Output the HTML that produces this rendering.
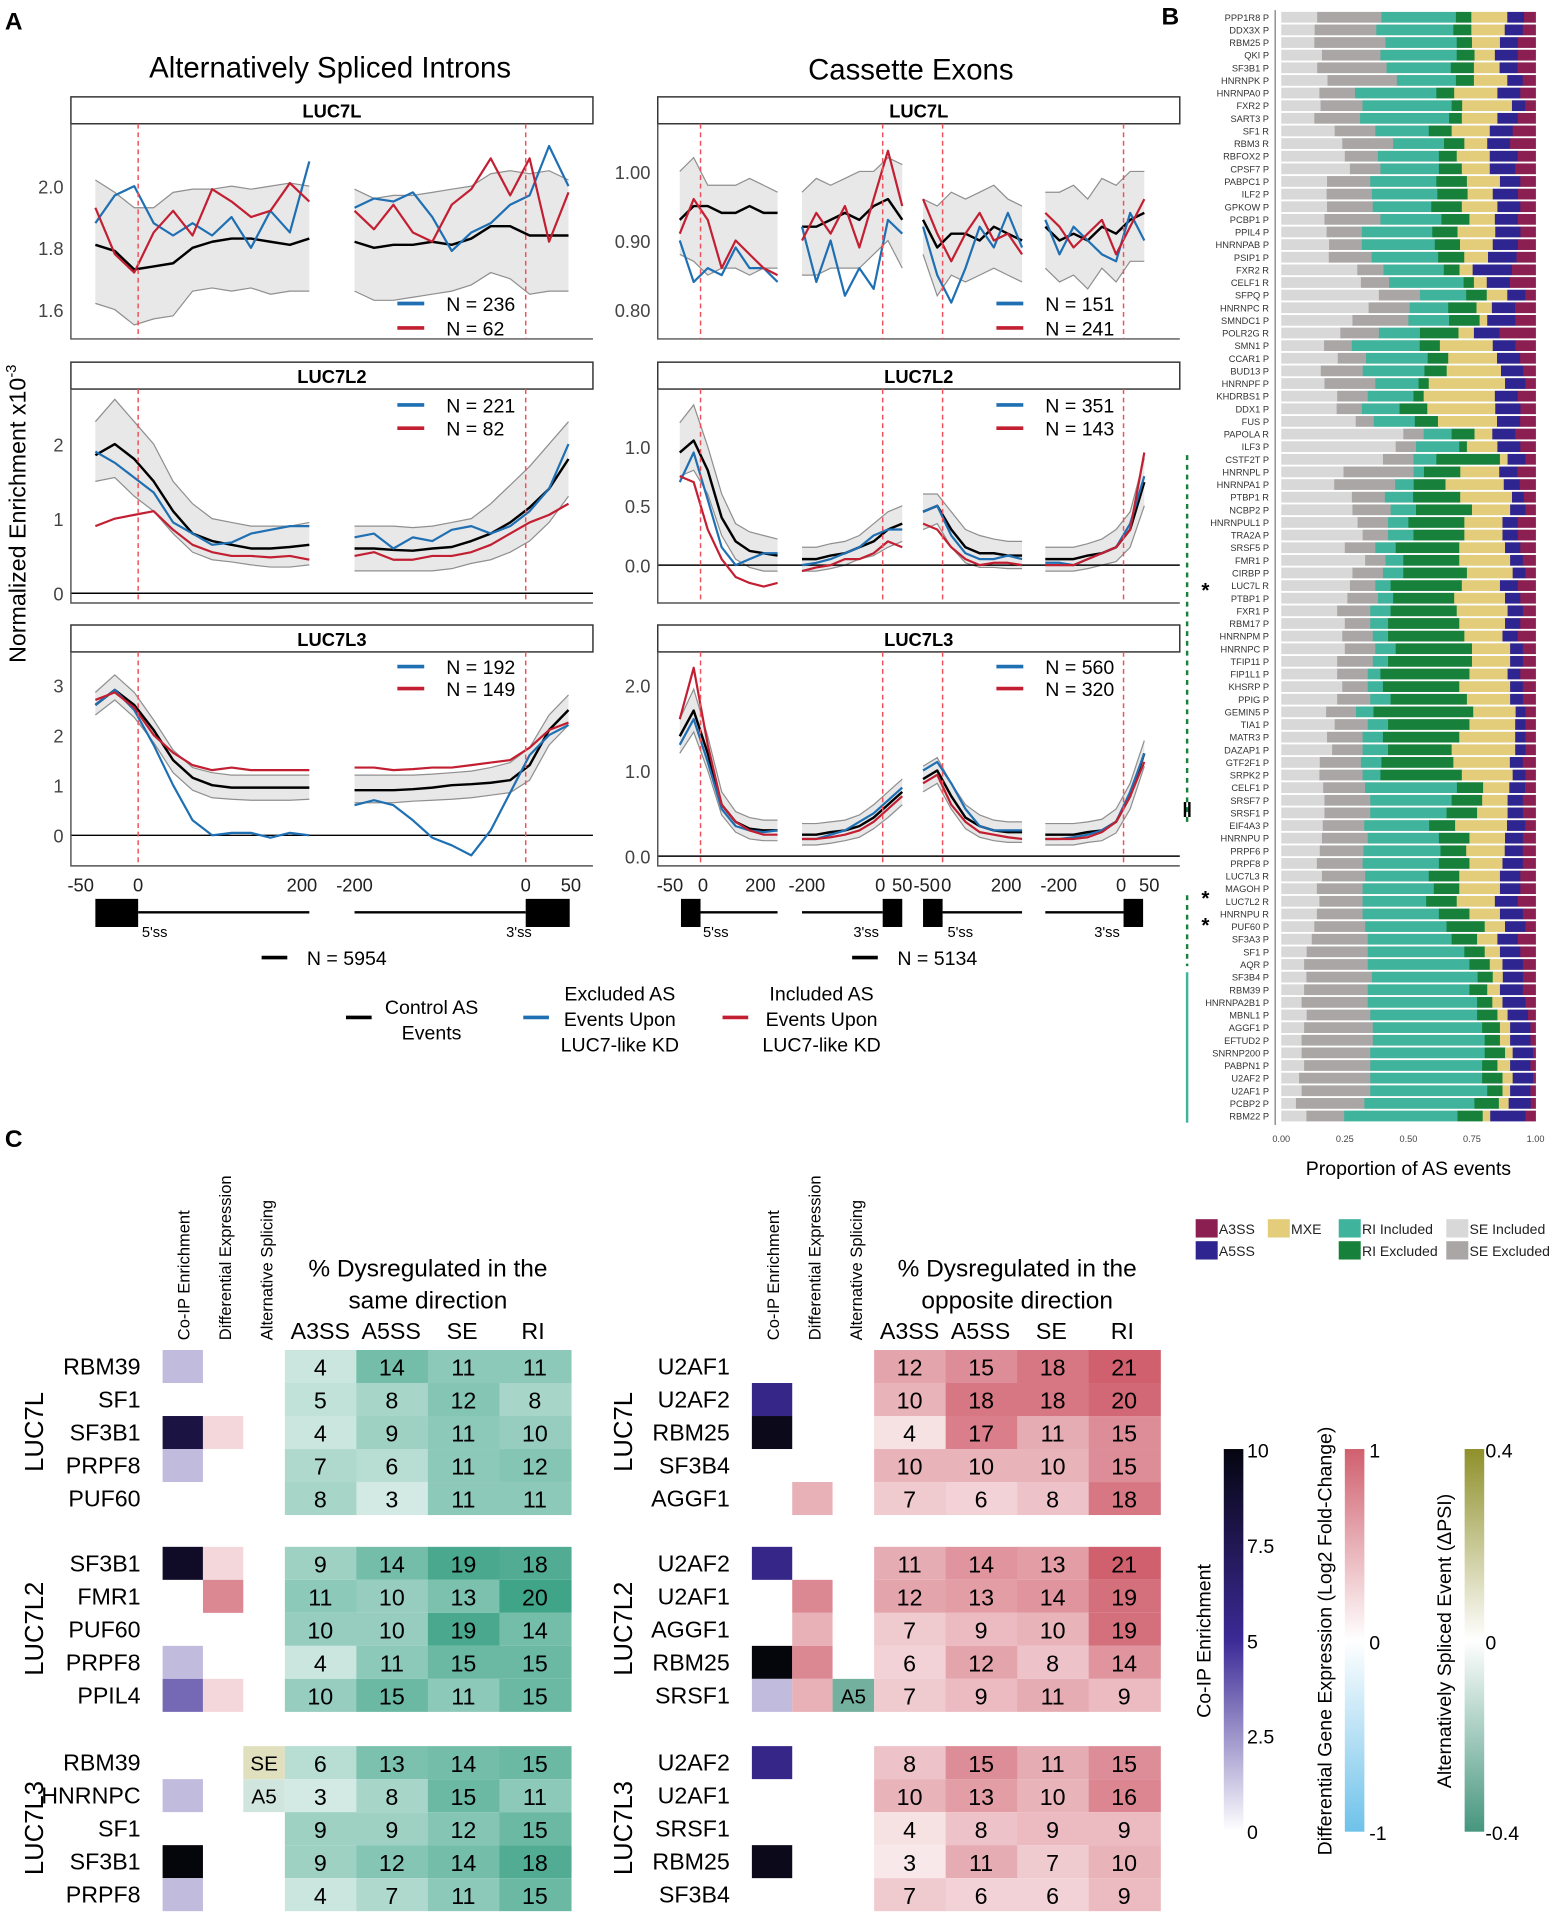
<!DOCTYPE html>
<html><head><meta charset="utf-8"><style>
html,body{margin:0;padding:0;background:#fff;}
svg{display:block;font-family:"Liberation Sans",Arial,sans-serif;}
</style></head><body>
<svg id="fig" xmlns="http://www.w3.org/2000/svg" width="1560" height="1920" viewBox="0 0 1276 1570">
<rect x="0" y="0" width="1276" height="1570" fill="#fff"/>
<g id="static" font-family="Liberation Sans, Arial, sans-serif">
<text x="4" y="24" font-size="20" font-weight="bold">A</text>
<text x="950" y="20" font-size="20" font-weight="bold">B</text>
<text x="4" y="938" font-size="20" font-weight="bold">C</text>
<text x="270" y="63" font-size="24" text-anchor="middle">Alternatively Spliced Introns</text>
<text x="745" y="65" font-size="24" text-anchor="middle">Cassette Exons</text>
<text transform="translate(21,420) rotate(-90)" font-size="19" text-anchor="middle">Normalized Enrichment x10<tspan font-size="12" dy="-8">-3</tspan></text>
</g>
<g id="panelA"></g>
<g id="panelB"></g>
<g id="panelC"></g>
</svg>
<script>
// ---------------- Panel A data ----------------
const in_L7L_ctrl=[1.81,1.79,1.73,1.74,1.75,1.80,1.82,1.83,1.83,1.82,1.81,1.83, 1.82,1.80,1.81,1.81,1.82,1.81,1.83,1.87,1.87,1.84,1.84,1.84];
const in_L7L_up=[2.02,1.98,1.93,1.93,1.98,1.99,1.99,2.00,1.99,2.00,2.01,2.00, 1.99,1.96,1.97,1.97,1.98,1.99,2.00,2.04,2.05,2.04,2.05,2.02];
const in_L7L_lo=[1.62,1.60,1.55,1.57,1.58,1.66,1.67,1.66,1.67,1.65,1.66,1.66, 1.66,1.63,1.63,1.64,1.65,1.66,1.68,1.72,1.70,1.65,1.66,1.66];
const in_L7L_blue=[1.88,1.97,2.00,1.88,1.84,1.88,1.84,1.90,1.80,1.92,1.85,2.08, 1.93,1.96,1.95,1.98,1.90,1.79,1.85,1.88,1.94,1.97,2.13,2.00];
const in_L7L_red=[1.93,1.78,1.72,1.85,1.92,1.84,1.99,1.95,1.90,1.92,2.01,1.95, 1.92,1.86,1.94,1.85,1.82,1.94,1.99,2.09,1.97,2.09,1.82,1.98];

const ex_L7L_ctrl=[0.93,0.95,0.95,0.94,0.94,0.95,0.94,0.94, 0.92,0.92,0.93,0.94,0.93,0.95,0.96,0.93, 0.93,0.89,0.91,0.91,0.90,0.92,0.91,0.90, 0.92,0.90,0.91,0.90,0.92,0.91,0.93,0.94];
const ex_L7L_up=[1.00,1.02,0.98,0.98,0.98,0.99,0.98,0.97, 0.97,0.99,0.98,0.99,1.00,1.00,1.02,1.01, 0.96,0.95,0.97,0.96,0.97,0.98,0.96,0.95, 0.97,0.97,0.98,0.96,0.99,0.98,1.00,1.00];
const ex_L7L_lo=[0.88,0.87,0.85,0.86,0.86,0.85,0.86,0.86, 0.85,0.85,0.86,0.86,0.86,0.88,0.90,0.86, 0.88,0.82,0.85,0.84,0.85,0.86,0.85,0.84, 0.86,0.84,0.85,0.83,0.86,0.84,0.87,0.87];
const ex_L7L_blue=[0.90,0.84,0.86,0.85,0.89,0.86,0.86,0.84, 0.92,0.84,0.90,0.82,0.86,0.83,0.93,0.91, 0.92,0.85,0.81,0.86,0.92,0.89,0.94,0.89, 0.93,0.88,0.92,0.90,0.88,0.87,0.94,0.90];
const ex_L7L_red=[0.91,0.96,0.93,0.86,0.90,0.88,0.86,0.85, 0.90,0.94,0.91,0.95,0.89,0.96,1.03,0.95, 0.96,0.91,0.87,0.91,0.94,0.90,0.91,0.88, 0.94,0.92,0.89,0.91,0.93,0.88,0.92,0.96];

const in_L7L2_ctrl=[1.85,2.0,1.8,1.5,1.1,0.8,0.7,0.65,0.6,0.6,0.62,0.65, 0.6,0.6,0.58,0.57,0.6,0.62,0.7,0.8,0.95,1.15,1.4,1.8];
const in_L7L2_up=[2.3,2.6,2.3,2.0,1.5,1.2,1.0,0.95,0.9,0.9,0.9,0.95, 0.9,0.9,0.9,0.88,0.9,0.95,1.0,1.2,1.45,1.7,2.0,2.3];
const in_L7L2_lo=[1.5,1.55,1.3,1.1,0.8,0.55,0.45,0.42,0.38,0.35,0.35,0.38, 0.3,0.3,0.3,0.3,0.3,0.33,0.4,0.45,0.55,0.7,0.95,1.3];
const in_L7L2_blue=[1.9,1.75,1.55,1.35,0.95,0.8,0.65,0.68,0.8,0.85,0.9,0.9, 0.75,0.8,0.6,0.75,0.7,0.85,0.9,0.8,0.9,1.1,1.4,2.0];
const in_L7L2_red=[0.9,1.0,1.05,1.1,0.85,0.65,0.55,0.5,0.5,0.48,0.5,0.45, 0.5,0.55,0.45,0.45,0.5,0.5,0.55,0.65,0.8,0.95,1.05,1.2];

const ex_L7L2_ctrl=[0.95,1.05,0.8,0.4,0.2,0.12,0.1,0.08, 0.05,0.05,0.08,0.1,0.15,0.2,0.3,0.35, 0.45,0.5,0.3,0.15,0.1,0.1,0.08,0.08, 0.05,0.05,0.05,0.08,0.1,0.15,0.3,0.7];
const ex_L7L2_up=[1.2,1.35,1.0,0.6,0.35,0.28,0.25,0.22, 0.15,0.15,0.18,0.2,0.25,0.35,0.45,0.5, 0.6,0.6,0.45,0.3,0.25,0.22,0.2,0.2, 0.15,0.15,0.15,0.18,0.22,0.3,0.45,0.9];
const ex_L7L2_lo=[0.75,0.8,0.6,0.25,0.05,-0.02,-0.05,-0.05, -0.05,-0.05,-0.03,0,0.05,0.08,0.15,0.2, 0.3,0.35,0.15,0.02,-0.02,-0.02,-0.03,-0.03, -0.05,-0.05,-0.05,-0.03,0,0.03,0.15,0.5];
const ex_L7L2_blue=[0.7,0.95,0.55,0.15,0.0,0.05,0.1,0.1, 0.0,0.02,0.05,0.1,0.15,0.25,0.3,0.3, 0.45,0.5,0.25,0.1,0.05,0.05,0.08,0.05, 0.02,0.02,0.0,0.05,0.1,0.15,0.35,0.75];
const ex_L7L2_red=[0.75,0.7,0.3,0.05,-0.1,-0.15,-0.18,-0.15, -0.05,-0.02,0.0,0.05,0.05,0.1,0.2,0.15, 0.35,0.3,0.15,0.05,0.0,0.02,0.02,0.0, 0.0,0.0,0.0,0.05,0.1,0.15,0.3,0.95];

const in_L7L3_ctrl=[2.6,2.9,2.6,2.1,1.5,1.15,1.0,0.95,0.95,0.95,0.95,0.95, 0.9,0.9,0.9,0.92,0.95,1.0,1.02,1.05,1.1,1.4,2.1,2.5];
const in_L7L3_up=[2.85,3.2,2.85,2.3,1.7,1.35,1.25,1.2,1.2,1.2,1.2,1.2, 1.2,1.2,1.2,1.2,1.22,1.25,1.28,1.35,1.45,1.75,2.4,2.8];
const in_L7L3_lo=[2.4,2.7,2.35,1.85,1.25,0.9,0.75,0.72,0.7,0.7,0.7,0.72, 0.65,0.65,0.65,0.68,0.7,0.72,0.75,0.8,0.85,1.1,1.8,2.2];
const in_L7L3_blue=[2.6,2.9,2.5,1.8,1.0,0.3,0.0,0.05,0.05,-0.05,0.05,0.0, 0.6,0.7,0.6,0.3,-0.05,-0.2,-0.4,0.1,0.85,1.6,2.0,2.2];
const in_L7L3_red=[2.7,2.85,2.55,2.0,1.65,1.4,1.3,1.35,1.3,1.3,1.3,1.3, 1.35,1.35,1.3,1.32,1.35,1.35,1.4,1.45,1.5,1.75,2.1,2.25];

const ex_L7L3_ctrl=[1.4,1.7,1.2,0.6,0.4,0.32,0.3,0.3, 0.25,0.25,0.28,0.3,0.35,0.45,0.6,0.75, 0.9,1.0,0.7,0.45,0.35,0.3,0.28,0.28, 0.25,0.25,0.25,0.28,0.3,0.4,0.7,1.2];
const ex_L7L3_up=[1.6,1.95,1.4,0.75,0.52,0.45,0.42,0.42, 0.38,0.38,0.4,0.42,0.48,0.6,0.75,0.9, 1.05,1.15,0.85,0.6,0.48,0.42,0.4,0.4, 0.38,0.38,0.38,0.4,0.43,0.55,0.85,1.35];
const ex_L7L3_lo=[1.2,1.45,1.0,0.48,0.28,0.2,0.18,0.18, 0.13,0.13,0.15,0.18,0.22,0.32,0.45,0.6, 0.75,0.85,0.55,0.32,0.22,0.18,0.16,0.16, 0.13,0.13,0.13,0.16,0.18,0.27,0.55,1.05];
const ex_L7L3_blue=[1.3,1.6,1.1,0.55,0.35,0.3,0.28,0.3, 0.2,0.2,0.25,0.3,0.4,0.5,0.65,0.8, 1.0,1.1,0.85,0.55,0.35,0.3,0.3,0.3, 0.2,0.2,0.22,0.25,0.3,0.4,0.75,1.2];
const ex_L7L3_red=[1.6,2.2,1.3,0.6,0.4,0.3,0.25,0.25, 0.2,0.2,0.22,0.25,0.3,0.4,0.55,0.7, 0.85,0.95,0.6,0.4,0.28,0.25,0.22,0.2, 0.2,0.2,0.2,0.22,0.28,0.4,0.7,1.1];

const nLabels=[["N = 236","N = 62"],["N = 151","N = 241"],["N = 221","N = 82"],["N = 351","N = 143"],["N = 192","N = 149"],["N = 560","N = 320"]];
const ticks_in=[[1.6,1.8,2.0],[0,1,2],[0,1,2,3]];
const ticks_ex=[[0.80,0.90,1.00],[0.0,0.5,1.0],[0.0,1.0,2.0]];

// ---------------- Panel B data ----------------
const bLabels=["PPP1R8 P","DDX3X P","RBM25 P","QKI P","SF3B1 P","HNRNPK P","HNRNPA0 P","FXR2 P","SART3 P","SF1 R","RBM3 R","RBFOX2 P","CPSF7 P","PABPC1 P","ILF2 P","GPKOW P","PCBP1 P","PPIL4 P","HNRNPAB P","PSIP1 P","FXR2 R","CELF1 R","SFPQ P","HNRNPC R","SMNDC1 P","POLR2G R","SMN1 P","CCAR1 P","BUD13 P","HNRNPF P","KHDRBS1 P","DDX1 P","FUS P","PAPOLA R","ILF3 P","CSTF2T P","HNRNPL P","HNRNPA1 P","PTBP1 R","NCBP2 P","HNRNPUL1 P","TRA2A P","SRSF5 P","FMR1 P","CIRBP P","LUC7L R","PTBP1 P","FXR1 P","RBM17 P","HNRNPM P","HNRNPC P","TFIP11 P","FIP1L1 P","KHSRP P","PPIG P","GEMIN5 P","TIA1 P","MATR3 P","DAZAP1 P","GTF2F1 P","SRPK2 P","CELF1 P","SRSF7 P","SRSF1 P","EIF4A3 P","HNRNPU P","PRPF6 P","PRPF8 P","LUC7L3 R","MAGOH P","LUC7L2 R","HNRNPU R","PUF60 P","SF3A3 P","SF1 P","AQR P","SF3B4 P","RBM39 P","HNRNPA2B1 P","MBNL1 P","AGGF1 P","EFTUD2 P","SNRNP200 P","PABPN1 P","U2AF2 P","U2AF1 P","PCBP2 P","RBM22 P"];
const seInc=[.14,.13,.13,.16,.14,.18,.15,.15,.13,.21, .24,.25,.27,.18,.18,.18,.17,.18,.19,.20, .29,.31,.38,.34,.28,.23,.17,.22,.16,.17, .22,.22,.29,.48,.45,.40,.24,.20,.30,.28, .30,.32,.25,.33,.28,.27,.26,.22,.25,.24, .25,.22,.22,.24,.22,.18,.21,.18,.20,.15, .15,.16,.17,.17,.16,.16,.15,.14,.16,.14, .15,.14,.13,.12,.10,.09,.10,.09,.08,.10, .09,.08,.08,.09,.07,.08,.06,.10];
const seExc=[.25,.24,.28,.23,.27,.27,.14,.16,.18,.16, .20,.13,.12,.17,.18,.18,.22,.14,.13,.18, .10,.11,.16,.16,.22,.15,.11,.11,.17,.20, .12,.10,.07,.08,.08,.12,.27,.23,.14,.15, .12,.10,.12,.08,.12,.10,.12,.13,.10,.12, .12,.14,.12,.10,.13,.12,.13,.14,.12,.16, .17,.16,.18,.18,.16,.18,.17,.18,.17,.18, .17,.18,.20,.22,.24,.25,.26,.25,.26,.25, .27,.28,.27,.26,.28,.27,.28,.15];
const riInc=[.29,.30,.28,.30,.25,.23,.32,.34,.35,.21, .20,.24,.23,.26,.26,.23,.24,.28,.29,.28, .23,.29,.18,.15,.16,.16,.27,.24,.25,.17, .18,.15,.16,.11,.17,.09,.04,.07,.12,.10, .08,.10,.08,.07,.08,.06,.06,.08,.07,.06, .08,.06,.05,.06,.08,.07,.08,.08,.10,.08, .07,.35,.32,.30,.25,.28,.30,.30,.25,.28, .25,.30,.32,.33,.38,.40,.42,.40,.43,.42, .43,.44,.45,.44,.44,.46,.45,.45];
const riExc=[.06,.07,.06,.07,.09,.07,.07,.04,.05,.09, .08,.07,.09,.12,.12,.12,.11,.10,.10,.11, .06,.04,.08,.11,.12,.15,.08,.08,.09,.04, .04,.11,.09,.09,.03,.25,.14,.12,.20,.22, .22,.20,.25,.22,.25,.28,.24,.26,.28,.30, .30,.33,.35,.30,.30,.40,.32,.30,.25,.28, .32,.10,.12,.12,.10,.12,.10,.12,.12,.10, .12,.12,.15,.10,.08,.08,.06,.07,.06,.08, .07,.06,.08,.06,.08,.06,.10,.10];
const mxe=[.14,.13,.11,.08,.10,.13,.17,.19,.14,.15, .09,.13,.11,.13,.10,.14,.10,.15,.13,.10, .05,.05,.08,.06,.03,.06,.21,.19,.22,.30, .28,.27,.23,.07,.12,.03,.15,.22,.22,.15, .15,.15,.18,.20,.18,.15,.20,.20,.18,.15, .15,.15,.15,.20,.17,.17,.18,.22,.25,.22, .20,.10,.10,.12,.20,.14,.15,.13,.16,.16, .15,.12,.08,.08,.06,.05,.04,.05,.04,.04, .04,.04,.03,.05,.04,.03,.04,.03];
const a5ss=[.065,.07,.07,.09,.07,.06,.09,.05,.08,.09, .09,.11,.10,.08,.10,.09,.09,.10,.10,.12, .15,.09,.07,.09,.11,.10,.09,.09,.09,.08, .09,.10,.09,.09,.09,.07,.07,.06,.05,.06, .06,.06,.06,.05,.05,.07,.06,.06,.06,.06, .05,.05,.05,.05,.05,.04,.04,.04,.04,.05, .05,.06,.06,.06,.07,.07,.07,.08,.08,.08, .09,.09,.08,.08,.08,.08,.08,.09,.09,.08, .08,.08,.08,.08,.08,.08,.09,.14];
const a3ss=[.045,.05,.07,.07,.07,.05,.06,.04,.07,.09, .10,.07,.08,.06,.07,.06,.07,.06,.07,.08, .09,.10,.04,.08,.08,.14,.08,.06,.05,.04, .07,.06,.06,.08,.06,.04,.07,.06,.05,.04, .07,.07,.06,.05,.04,.07,.06,.05,.06,.07, .05,.05,.06,.05,.05,.04,.04,.04,.04,.05, .04,.04,.05,.05,.04,.05,.05,.05,.06,.06, .07,.05,.04,.07,.06,.05,.05,.05,.04,.03, .02,.02,.01,.02,.01,.02,.02,.04];
const bTicks=["0.00","0.25","0.50","0.75","1.00"];

// ---------------- Panel C data ----------------
const groups=["LUC7L","LUC7L2","LUC7L3"];
const sameGenes=[["RBM39","SF1","SF3B1","PRPF8","PUF60"],["SF3B1","FMR1","PUF60","PRPF8","PPIL4"],["RBM39","HNRNPC","SF1","SF3B1","PRPF8"]];
const samePct=[[[4,14,11,11],[5,8,12,8],[4,9,11,10],[7,6,11,12],[8,3,11,11]],[[9,14,19,18],[11,10,13,20],[10,10,19,14],[4,11,15,15],[10,15,11,15]],[[6,13,14,15],[3,8,15,11],[9,9,12,15],[9,12,14,18],[4,7,11,15]]];
const sameCoip=[[1.5,null,8,1.5,null],[9,null,null,1.5,3.5],[null,1.5,null,10,1.5]];
const sameDE=[[null,null,0.25,null,null],[0.25,0.75,null,null,0.25],[null,null,null,null,null]];
const sameAS=[[null,null,null,null,null],[null,null,null,null,null],[["SE",0.12],["A5",-0.1],null,null,null]];
const oppGenes=[["U2AF1","U2AF2","RBM25","SF3B4","AGGF1"],["U2AF2","U2AF1","AGGF1","RBM25","SRSF1"],["U2AF2","U2AF1","SRSF1","RBM25","SF3B4"]];
const oppPct=[[[12,15,18,21],[10,18,18,20],[4,17,11,15],[10,10,10,15],[7,6,8,18]],[[11,14,13,21],[12,13,14,19],[7,9,10,19],[6,12,8,14],[7,9,11,9]],[[8,15,11,15],[10,13,10,16],[4,8,9,9],[3,11,7,10],[7,6,6,9]]];
const oppCoip=[[null,5.5,9.5,null,null],[5.5,null,null,10,1.5],[5.5,null,null,9.5,null]];
const oppDE=[[null,null,null,null,0.5],[null,0.75,0.5,0.75,0.5],[null,null,null,null,null]];
const oppAS=[[null,null,null,null,null],[null,null,null,null,["A5",-0.3]],[null,null,null,null,null]];
const eventCols=["A3SS","A5SS","SE","RI"];
const coipTicks=["10","7.5","5","2.5","0"];

const NS="http://www.w3.org/2000/svg";
function mk(tag,attrs,parent){const e=document.createElementNS(NS,tag);for(const k in attrs)e.setAttribute(k,attrs[k]);parent.appendChild(e);return e;}
function txt(s,attrs,parent){const e=mk("text",attrs,parent);e.textContent=s;return e;}

// ---------------- Draw Panel A ----------------
const A=document.getElementById("panelA");
const segIn=[[78,253],[290,465]], segEx=[[556,636],[656,738],[755,836],[855,936]];
const rows=[{strip:79,bottom:277,name:"LUC7L",inY:[1.6,253,252.5],exY:[0.80,253,565],zero:false,leg:[248,268]},
            {strip:296,bottom:493,name:"LUC7L2",inY:[0,485,61],exY:[0,462,97],zero:true,leg:[331,350]},
            {strip:511,bottom:708,name:"LUC7L3",inY:[0,683,41],exY:[0,700,70],zero:true,leg:[545,563]}];
const dataIn=[[in_L7L_ctrl,in_L7L_up,in_L7L_lo,in_L7L_blue,in_L7L_red],[in_L7L2_ctrl,in_L7L2_up,in_L7L2_lo,in_L7L2_blue,in_L7L2_red],[in_L7L3_ctrl,in_L7L3_up,in_L7L3_lo,in_L7L3_blue,in_L7L3_red]];
const dataEx=[[ex_L7L_ctrl,ex_L7L_up,ex_L7L_lo,ex_L7L_blue,ex_L7L_red],[ex_L7L2_ctrl,ex_L7L2_up,ex_L7L2_lo,ex_L7L2_blue,ex_L7L2_red],[ex_L7L3_ctrl,ex_L7L3_up,ex_L7L3_lo,ex_L7L3_blue,ex_L7L3_red]];

function drawPlot(r,ri,x0,x1,segs,ysc,data,ticks,tickFmt,zeroLines,legX,nl,kind){
  const g=mk("g",{},A);
  
  
  const strip=mk("rect",{x:x0,y:r.strip,width:x1-x0,height:22,fill:"#fff",stroke:"#333","stroke-width":1.2},g);
  
  
  const st=txt(r.name,{x:(x0+x1)/2,y:r.strip+17,"font-size":15,"font-weight":"bold","text-anchor":"middle"},g);
  
  
  const top=r.strip+22;
  const Y=v=>ysc[1]-(v-ysc[0])*ysc[2];
  const n=data[0].length/segs.length;
  const X=(s,i)=>segs[s][0]+(segs[s][1]-segs[s][0])*i/(n-1);
  for(let s=0;s<segs.length;s++){
    const up=data[1].slice(s*n,(s+1)*n), lo=data[2].slice(s*n,(s+1)*n);
    let d="";
    up.forEach((v,i)=>d+=(i?"L":"M")+X(s,i).toFixed(1)+","+Y(v).toFixed(1));
    for(let i=n-1;i>=0;i--) d+="L"+X(s,i).toFixed(1)+","+Y(lo[i]).toFixed(1);
    const band=mk("path",{d:d+"Z",fill:"#e8e8e8",stroke:"none"},g);
    
    
    [up,lo].forEach(arr=>{
      const p=mk("polyline",{points:arr.map((v,i)=>X(s,i).toFixed(1)+","+Y(v).toFixed(1)).join(" "),fill:"none",stroke:"#8f8f8f","stroke-width":1},g);
      
      
    });
  }
  if(zeroLines){
    const zl=mk("line",{x1:x0,x2:x1,y1:Y(0),y2:Y(0),stroke:"#000","stroke-width":1.2},g);
    
    
  }
  const cols=["#000","#1f6fb3","#c21f32"], names=["control-line","excluded-line","included-line"];
  [0,3,4].forEach((k,ci)=>{
    for(let s=0;s<segs.length;s++){
      const arr=data[k].slice(s*n,(s+1)*n);
      const p=mk("polyline",{points:arr.map((v,i)=>X(s,i).toFixed(1)+","+Y(v).toFixed(1)).join(" "),fill:"none",stroke:cols[ci],"stroke-width":ci?1.8:2,"stroke-linejoin":"round"},g);
      
      
    }
  });
  ticks.forEach(t=>{
    const tl=txt(tickFmt(t),{x:x0-6,y:Y(t)+6,"font-size":15,"text-anchor":"end",fill:"#444"},g);
    
    
  });
  const ax=mk("path",{d:`M${x0},${top} V${r.bottom} H${x1}`,fill:"none",stroke:"#555","stroke-width":1.2},g);
  
  
  [0,1].forEach(j=>{
    const ly=r.leg[j];
    const l=mk("line",{x1:legX,x2:legX+22,y1:ly,y2:ly,stroke:j?"#c21f32":"#1f6fb3","stroke-width":3},g);
    
    
    const t=txt(nl[j],{x:legX+40,y:ly+6,"font-size":16},g);
    
    
  });
  return {top};
}
rows.forEach((r,ri)=>{
  const a=drawPlot(r,ri,58,485,segIn,r.inY,dataIn[ri],ticks_in[ri],t=>String(t===0?0:t.toFixed(ri===0?1:0)),r.zero,325,nLabels[ri*2],"introns");
  const b=drawPlot(r,ri,538,965,segEx,r.exY,dataEx[ri],ticks_ex[ri],t=>t.toFixed(ri===0?2:1),r.zero,815,nLabels[ri*2+1],"exons");
  [113,430,573,722,771,919].forEach(x=>{
    const dl=mk("line",{x1:x,x2:x,y1:a.top,y2:r.bottom,stroke:"#f0505a","stroke-width":1.2,"stroke-dasharray":"4,3"},A);
    
    
  });
});
[["-50",66],["0",113],["200",247],["-200",290],["0",430],["50",467],["-50",548],["0",575],["200",622],["-200",660],["0",720],["50",738],["-50",758],["0",774],["200",823],["-200",866],["0",917],["50",940]].forEach(([s,x])=>{
  const t=txt(s,{x:x,y:729,"font-size":15,"text-anchor":"middle",fill:"#222"},A);
  
  
});
function box(x,w){const b=mk("rect",{x:x,y:735,width:w,height:23,fill:"#000"},A);}
function ln(x1,x2){const l=mk("line",{x1:x1,x2:x2,y1:746,y2:746,stroke:"#000","stroke-width":2},A);}
box(78,35);ln(113,253);ln(290,430);box(430,36);
box(557,16);ln(573,636);ln(656,722);box(722,16);box(755,16);ln(771,836);ln(855,919);box(919,16);
[["5'ss",116],["3'ss",414],["5'ss",575],["3'ss",698],["5'ss",775],["3'ss",895]].forEach(([s,x])=>{
  const t=txt(s,{x:x,y:766,"font-size":12},A);
  
  
});
[[214,"N = 5954"],[697,"N = 5134"]].forEach(([x,s])=>{
  const l=mk("line",{x1:x,x2:x+21,y1:783,y2:783,stroke:"#000","stroke-width":3},A);
  
  
  const t=txt(s,{x:x+37,y:789,"font-size":16},A);
  
  
});
[[283,"#000",["Control AS","Events"],353,823],[428,"#1f6fb3",["Excluded AS","Events Upon","LUC7-like KD"],507,812],[591,"#c21f32",["Included AS","Events Upon","LUC7-like KD"],672,812]].forEach(([x,c,lines,cx,y0])=>{
  const l=mk("line",{x1:x,x2:x+21,y1:832,y2:832,stroke:c,"stroke-width":3},A);
  
  
  lines.forEach((s,i)=>{
    const t=txt(s,{x:cx,y:y0+6+i*21,"font-size":16,"text-anchor":"middle"},A);
    
    
  });
});

// ---------------- Draw Panel B ----------------
const B=document.getElementById("panelB");
const bx0=1048,bx1=1256,by0=9.5,bstep=10.33,bh=8.8;
const bcols=["#d8d8d8","#aba6a6","#3fb39b","#17803a","#e3cd7a","#2e2590","#8c1f52"];
const bseries=[seInc,seExc,riInc,riExc,mxe,a5ss,a3ss];
bLabels.forEach((lab,i)=>{
  const y=by0+i*bstep;
  const tot=bseries.reduce((s,a)=>s+a[i],0);
  let acc=0;
  bseries.forEach((arr,k)=>{
    const w=arr[i]/tot*(bx1-bx0);
    const r=mk("rect",{x:(bx0+acc).toFixed(2),y:y.toFixed(2),width:(w+0.3).toFixed(2),height:bh,fill:bcols[k]},B);
    
    
    acc+=w;
  });
  const t=txt(lab,{x:1038,y:(y+bh-1.5).toFixed(2),"font-size":7.6,"text-anchor":"end",fill:"#333"},B);
  
  
});
{
  const ax=mk("line",{x1:1043,x2:1043,y1:8,y2:920,stroke:"#555","stroke-width":0.8},B);
  
  
}
bTicks.forEach((s,i)=>{
  const x=bx0+(bx1-bx0)*parseFloat(s);
  const t=txt(s,{x:x,y:934,"font-size":7.5,"text-anchor":"middle",fill:"#444"},B);
  
  
});
{
  const t=txt("Proportion of AS events",{x:1152,y:961,"font-size":16,"text-anchor":"middle"},B);
  
  
}
[[372,676,"#17803a","4,4"],[732,790,"#17803a","4,4"],[795,918,"#3fb39b",""]].forEach(([y1,y2,c,da])=>{
  const l=mk("line",{x1:971,x2:971,y1:y1,y2:y2,stroke:c,"stroke-width":2,"stroke-dasharray":da},B);
  
  
});
[[986,488,"*"],[986,740,"*"],[986,762,"*"],[971,668,"‖"]].forEach(([x,y,s])=>{
  const t=txt(s,{x:x,y:y,"font-size":17,"font-weight":"bold","text-anchor":"middle"},B);
  
  
});
[["A3SS",978,997,6],["A5SS",978,1015,5],["MXE",1037,997,4],["RI Included",1095,997,2],["RI Excluded",1095,1015,3],["SE Included",1183,997,0],["SE Excluded",1183,1015,1]].forEach(([s,x,y,k])=>{
  const r=mk("rect",{x:x,y:y,width:18,height:15,fill:bcols[k]},B);
  
  
  const t=txt(s,{x:x+19,y:y+12,"font-size":11.5,fill:"#222"},B);
  
  
});

// ---------------- Draw Panel C ----------------
const C=document.getElementById("panelC");
function lerp(a,b,t){return a.map((v,i)=>Math.round(v+(b[i]-v)*t));}
function rgb(c){return `rgb(${c[0]},${c[1]},${c[2]})`;}
function tealCol(v){return rgb(lerp([236,246,243],[64,164,136],Math.min(v/20,1)));}
function redCol(v){return rgb(lerp([255,255,255],[208,96,110],Math.min(v/21,1)));}
function coipCol(v){const t=v/10; return t<0.5?rgb(lerp([250,249,253],[60,42,150],t*2)):rgb(lerp([60,42,150],[5,5,12],(t-0.5)*2));}
function deCol(v){return v>=0?rgb(lerp([255,255,255],[208,96,110],v)):rgb(lerp([255,255,255],[110,194,234],-v));}
function asCol(v){return v>=0?rgb(lerp([255,255,255],[150,150,40],v/0.4)):rgb(lerp([255,255,255],[70,150,125],-v/0.4));}
const rowTops=[1104,1265,1428], rh=27;
function drawBlock(off,genes,pct,coip,de,as,valCol,title2){
  [["Co-IP Enrichment",150],["Differential Expression",184],["Alternative Splicing",218]].forEach(([s,x])=>{
    const t=txt(s,{transform:`translate(${x+off+5},1096) rotate(-90)`,"font-size":13.5},C);
    
    
  });
  const t1=txt("% Dysregulated in the",{x:350+off,y:1044,"font-size":20,"text-anchor":"middle"},C);
  
  
  const t2=txt(title2,{x:350+off,y:1070,"font-size":20,"text-anchor":"middle"},C);
  
  
  eventCols.forEach((s,j)=>{
    const t=txt(s,{x:262+off+j*58,y:1095,"font-size":19,"text-anchor":"middle"},C);
    
    
  });
  groups.forEach((gname,gi)=>{
    const gt=txt(gname,{transform:`translate(${35+off},${rowTops[gi]+67}) rotate(-90)`,"font-size":21,"text-anchor":"middle"},C);
    
    
    genes[gi].forEach((gene,r)=>{
      const y=rowTops[gi]+r*rh;
      const lt=txt(gene,{x:115+off,y:y+20,"font-size":19,"text-anchor":"end"},C);
      
      
      if(coip[gi][r]!==null){
        const c=mk("rect",{x:133+off,y:y,width:33,height:rh,fill:coipCol(coip[gi][r])},C);
        
        
      }
      if(de[gi][r]!==null){
        const c=mk("rect",{x:166+off,y:y,width:33,height:rh,fill:deCol(de[gi][r])},C);
        
        
      }
      if(as[gi][r]!==null){
        const c=mk("rect",{x:199+off,y:y,width:34,height:rh,fill:asCol(as[gi][r][1])},C);
        
        
        const at=txt(as[gi][r][0],{x:216+off,y:y+20,"font-size":17,"text-anchor":"middle"},C);
        
        
      }
      pct[gi][r].forEach((v,j)=>{
        const c=mk("rect",{x:233+off+j*58.5,y:y,width:59,height:rh,fill:valCol(v)},C);
        
        
        const vt=txt(String(v),{x:262+off+j*58.5,y:y+21,"font-size":19,"text-anchor":"middle"},C);
        
        
      });
    });
  });
}
drawBlock(0,sameGenes,samePct,sameCoip,sameDE,sameAS,tealCol,"same direction");
drawBlock(482,oppGenes,oppPct,oppCoip,oppDE,oppAS,redCol,"opposite direction");

const defs=mk("defs",{},C);
function grad(id,stops){const g=mk("linearGradient",{id:id,x1:0,y1:1,x2:0,y2:0},defs);stops.forEach(([o,c])=>mk("stop",{offset:o,"stop-color":c},g));}
grad("gCoip",[[0,"#ffffff"],[0.5,"#3c2a96"],[1,"#050510"]]);
grad("gDE",[[0,"#6ec2ea"],[0.5,"#ffffff"],[1,"#d0606e"]]);
grad("gAS",[[0,"#46967d"],[0.5,"#ffffff"],[1,"#8f902a"]]);
[[1001,"gCoip","coip-colorbar"],[1100,"gDE","de-colorbar"],[1198,"gAS","as-colorbar"]].forEach(([x,id,nm])=>{
  const r=mk("rect",{x:x,y:1185,width:16,height:313,fill:`url(#${id})`},C);
  
  
});
coipTicks.forEach((s,i)=>{
  const t=txt(s,{x:1020,y:1192+i*78,"font-size":16},C);
  
  
});
[["1",1192],["0",1349],["-1",1505]].forEach(([s,y])=>{
  const t=txt(s,{x:1120,y:y,"font-size":16},C);
  
  
});
[["0.4",1192],["0",1349],["-0.4",1505]].forEach(([s,y])=>{
  const t=txt(s,{x:1215,y:y,"font-size":16},C);
  
  
});
[["Co-IP Enrichment",990,1342],["Differential Gene Expression (Log2 Fold-Change)",1089,1342],["Alternatively Spliced Event (ΔPSI)",1187,1342]].forEach(([s,x,y])=>{
  const t=txt(s,{transform:`translate(${x},${y}) rotate(-90)`,"font-size":16,"text-anchor":"middle"},C);
  
  
});
</script>
</body></html>
